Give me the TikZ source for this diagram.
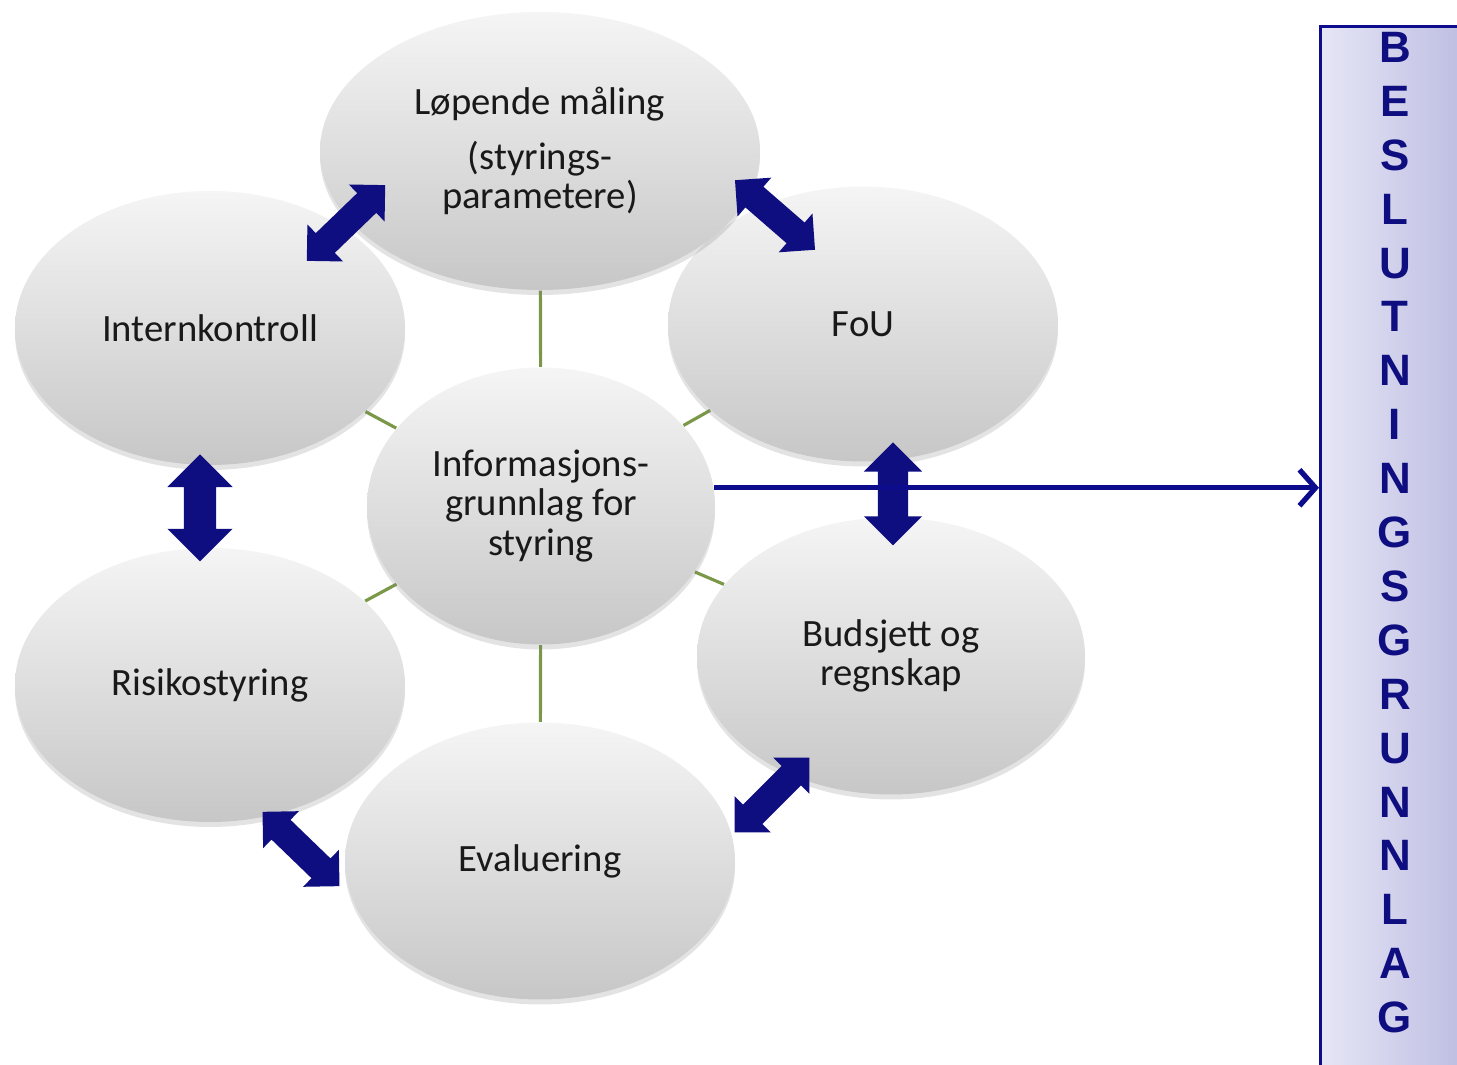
\documentclass[tikz,border=0pt]{standalone}
\usepackage{fontspec}
\setmainfont{Carlito}
\newfontfamily\letterfont{Liberation Sans}
\usetikzlibrary{positioning, shapes.geometric, shapes.arrows, shadows, backgrounds, arrows.meta}

\definecolor{navyarrow}{RGB}{14,14,128}
\definecolor{navyline}{RGB}{12,12,140}
\definecolor{spokegreen}{RGB}{122,152,72}
\definecolor{boxleft}{RGB}{230,230,246}
\definecolor{boxright}{RGB}{168,168,216}

\begin{document}
\begin{tikzpicture}[
    bubble/.style={
    ellipse,
    inner sep=0pt,
    align=center,
    font=\fontsize{11}{11.2}\selectfont,
    text=black!90,
    top color=white!96!black,
    bottom color=black!22,
    drop shadow={shadow xshift=0pt, shadow yshift=-0.05cm, opacity=0.22}},
    twoway/.style={
    double arrow,
    fill=navyarrow,
    inner xsep=0pt,
    inner ysep=0.13cm,
    double arrow head indent=0pt},
    spoke/.style={draw=spokegreen, line width=0.9pt},
    letter/.style={
    font=\letterfont\bfseries\fontsize{12.5}{12.5}\selectfont,
    text=navyarrow,
    inner sep=0pt,
    text height=0.29cm,
    text depth=0pt}]

    \useasboundingbox (0,0) rectangle (14.57,10.65);
    \clip (0,0) rectangle (14.57,10.65);

    % the six topics round the centre
    \node[bubble, minimum width=3.90cm, minimum height=2.74cm] (intern) at (2.10,7.37) {Internkontroll};
    \node[bubble, minimum width=3.90cm, minimum height=2.74cm] (risk) at (2.10,3.80) {Risikostyring};
    \node[bubble, minimum width=3.90cm, minimum height=2.75cm] (fou) at (8.63,7.41) {FoU};
    \node[bubble, minimum width=3.88cm, minimum height=2.77cm] (bud) at (8.91,4.09) {Budsjett og\\regnskap};
    \node[bubble, minimum width=3.90cm, minimum height=2.77cm] (eval) at (5.40,2.04) {Evaluering};
    \node[bubble, minimum width=4.40cm, minimum height=2.78cm] (top) at (5.40,9.14)
        {Løpende måling\\[4.5pt](styrings-\\parametere)};
    \node[bubble, minimum width=3.48cm, minimum height=2.77cm] (ctr) at (5.41,5.59)
        {Informasjons-\\grunnlag for\\styring};

    \begin{scope}[on background layer]
        \foreach \t in {top, intern, fou, risk, bud, eval}
            \draw[spoke] (ctr) -- (\t);
    \end{scope}

    % double arrows between neighbours
    \node[twoway, rotate=44, minimum height=1.09cm, minimum width=0.50cm, double arrow head extend=0.12cm] (a1) at (3.46,8.42) {};
    \node[twoway, rotate=-41, minimum height=1.06cm, minimum width=0.50cm, double arrow head extend=0.12cm] (a2) at (7.75,8.50) {};
    \node[twoway, rotate=90, minimum height=1.07cm, minimum width=0.64cm, double arrow head extend=0.165cm, inner ysep=0.155cm] (a3) at (2.00,5.57) {};
    \node[twoway, rotate=90, minimum height=1.03cm, minimum width=0.57cm, double arrow head extend=0.14cm, inner ysep=0.145cm] (a4) at (8.93,5.71) {};
    \node[twoway, rotate=45, minimum height=1.06cm, minimum width=0.50cm, double arrow head extend=0.12cm] (a5) at (7.72,2.70) {};
    \node[twoway, rotate=-44, minimum height=1.07cm, minimum width=0.50cm, double arrow head extend=0.12cm] (a6) at (3.01,2.16) {};

    % decision basis
    \node[draw=navyline, line width=0.8pt, left color=boxleft, right color=boxright,
        anchor=north west, minimum width=2.2cm, minimum height=11cm, inner sep=0pt] (box) at (13.19,10.40) {};
    \foreach \c [count=\i from 0] in {B,E,S,L,U,T,N,I,N,G,S,G,R,U,N,N,L,A,G}
        \node[letter] (l\i) at (13.95,10.17-0.539*\i) {\c};

    \draw[navyline, line width=1.5pt, -{Straight Barb[length=0.16cm, width=0.36cm]}] (ctr.6) -- (ctr.6 -| box.west);
\end{tikzpicture}
\end{document}
